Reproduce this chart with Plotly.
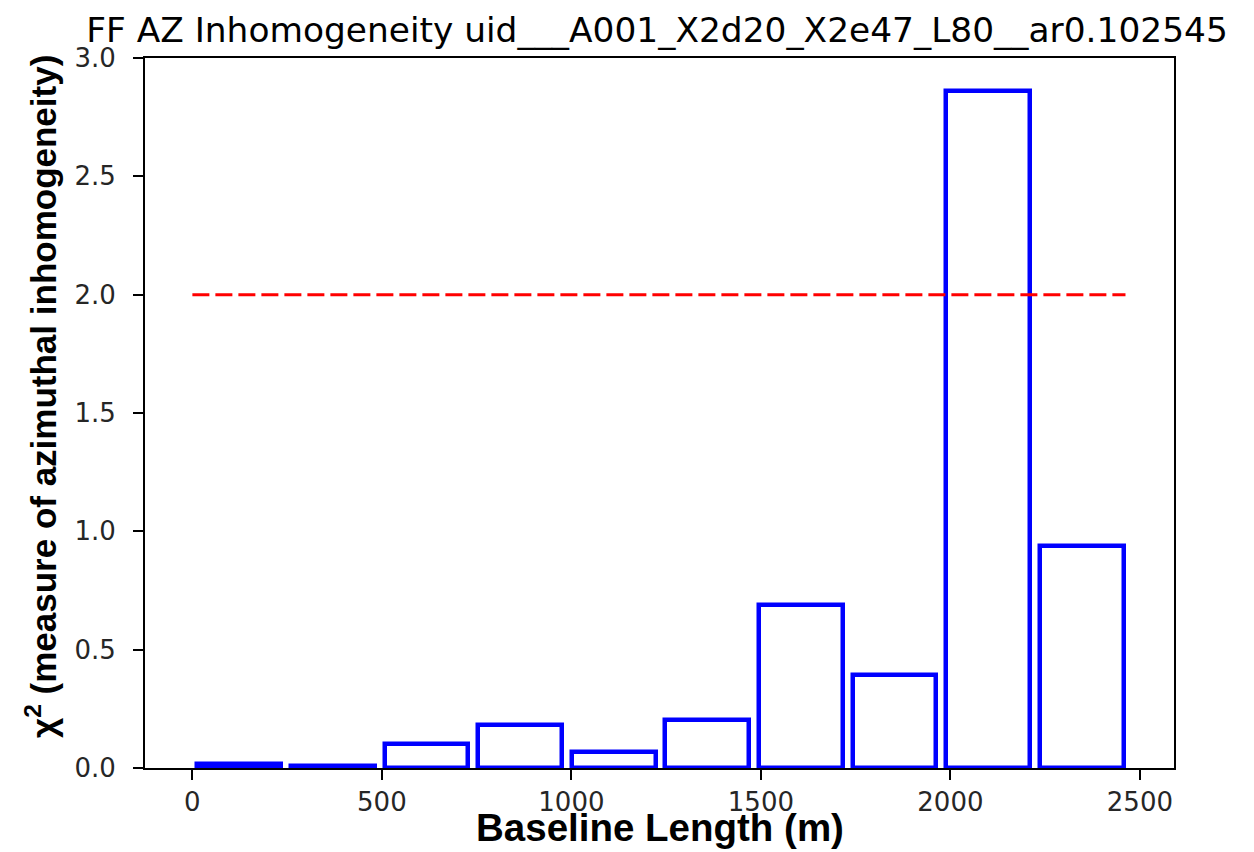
import plotly.graph_objects as go

# Data
bin_centers = [123.5, 370.5, 617.5, 864.5, 1111.5, 1358.5, 1605.5, 1852.5, 2099.5, 2346.5]
chi2_values = [0.018, 0.010, 0.103, 0.183, 0.069, 0.201, 0.687, 0.394, 2.862, 0.936]
bar_width = 221
threshold = 2.0
threshold_x = [0, 2462]
x_ticks = [0, 500, 1000, 1500, 2000, 2500]
y_ticks = [0.0, 0.5, 1.0, 1.5, 2.0, 2.5, 3.0]

title_text = "FF AZ Inhomogeneity uid___A001_X2d20_X2e47_L80__ar0.102545"
xlabel = "Baseline Length (m)"
ylabel = "χ<sup>2</sup> (measure of azimuthal inhomogeneity)"

W, H = 1254, 852
L, R, T, B = 145, 80, 58, 84

fig = go.Figure()
fig.add_trace(go.Bar(
    x=bin_centers, y=chi2_values, width=bar_width,
    marker=dict(color="rgba(255,255,255,0)", line=dict(color="#0000ff", width=4.5)),
    showlegend=False,
))
fig.add_trace(go.Scatter(
    x=threshold_x, y=[threshold, threshold], mode="lines",
    line=dict(color="#ff0000", width=3, dash="17px,6px"),
    showlegend=False,
))

axis_common = dict(
    showline=True, linecolor="black", linewidth=2, mirror=True,
    ticks="outside", ticklen=10, tickwidth=2, tickcolor="black",
    showgrid=False, zeroline=False,
    tickfont=dict(family="DejaVu Sans", size=26, color="#262626"),
)
fig.update_xaxes(range=[-125, 2590], tickvals=x_ticks, ticklabelstandoff=0, **axis_common)
fig.update_yaxes(range=[0, 3.0], tickvals=y_ticks, tickformat=".1f", ticklabelstandoff=12, **axis_common)

fig.update_layout(
    width=W, height=H,
    margin=dict(l=L, r=R, t=T, b=B),
    paper_bgcolor="white", plot_bgcolor="white",
    bargap=0,
    title=dict(
        text=title_text, x=(L + (W - R)) / 2 / W - 0.002, xanchor="center",
        y=1 - 30 / H, yanchor="middle", yref="container",
        font=dict(family="DejaVu Sans", size=34.4, color="black"),
    ),
    annotations=[
        dict(text=xlabel, xref="paper", yref="paper", x=0.5, y=-(828 - 768) / (H - T - B),
             yanchor="middle", xanchor="center", showarrow=False,
             font=dict(family="Liberation Sans", size=38.5, color="black", weight="bold")),
        dict(text=ylabel, xref="paper", yref="paper", x=-(145 - 41) / (W - L - R),
             y=(768 - 397) / (H - T - B), textangle=-90,
             xanchor="center", yanchor="middle", showarrow=False,
             font=dict(family="Liberation Sans", size=35, color="black", weight="bold")),
    ],
)

fig.write_html("out.html")
